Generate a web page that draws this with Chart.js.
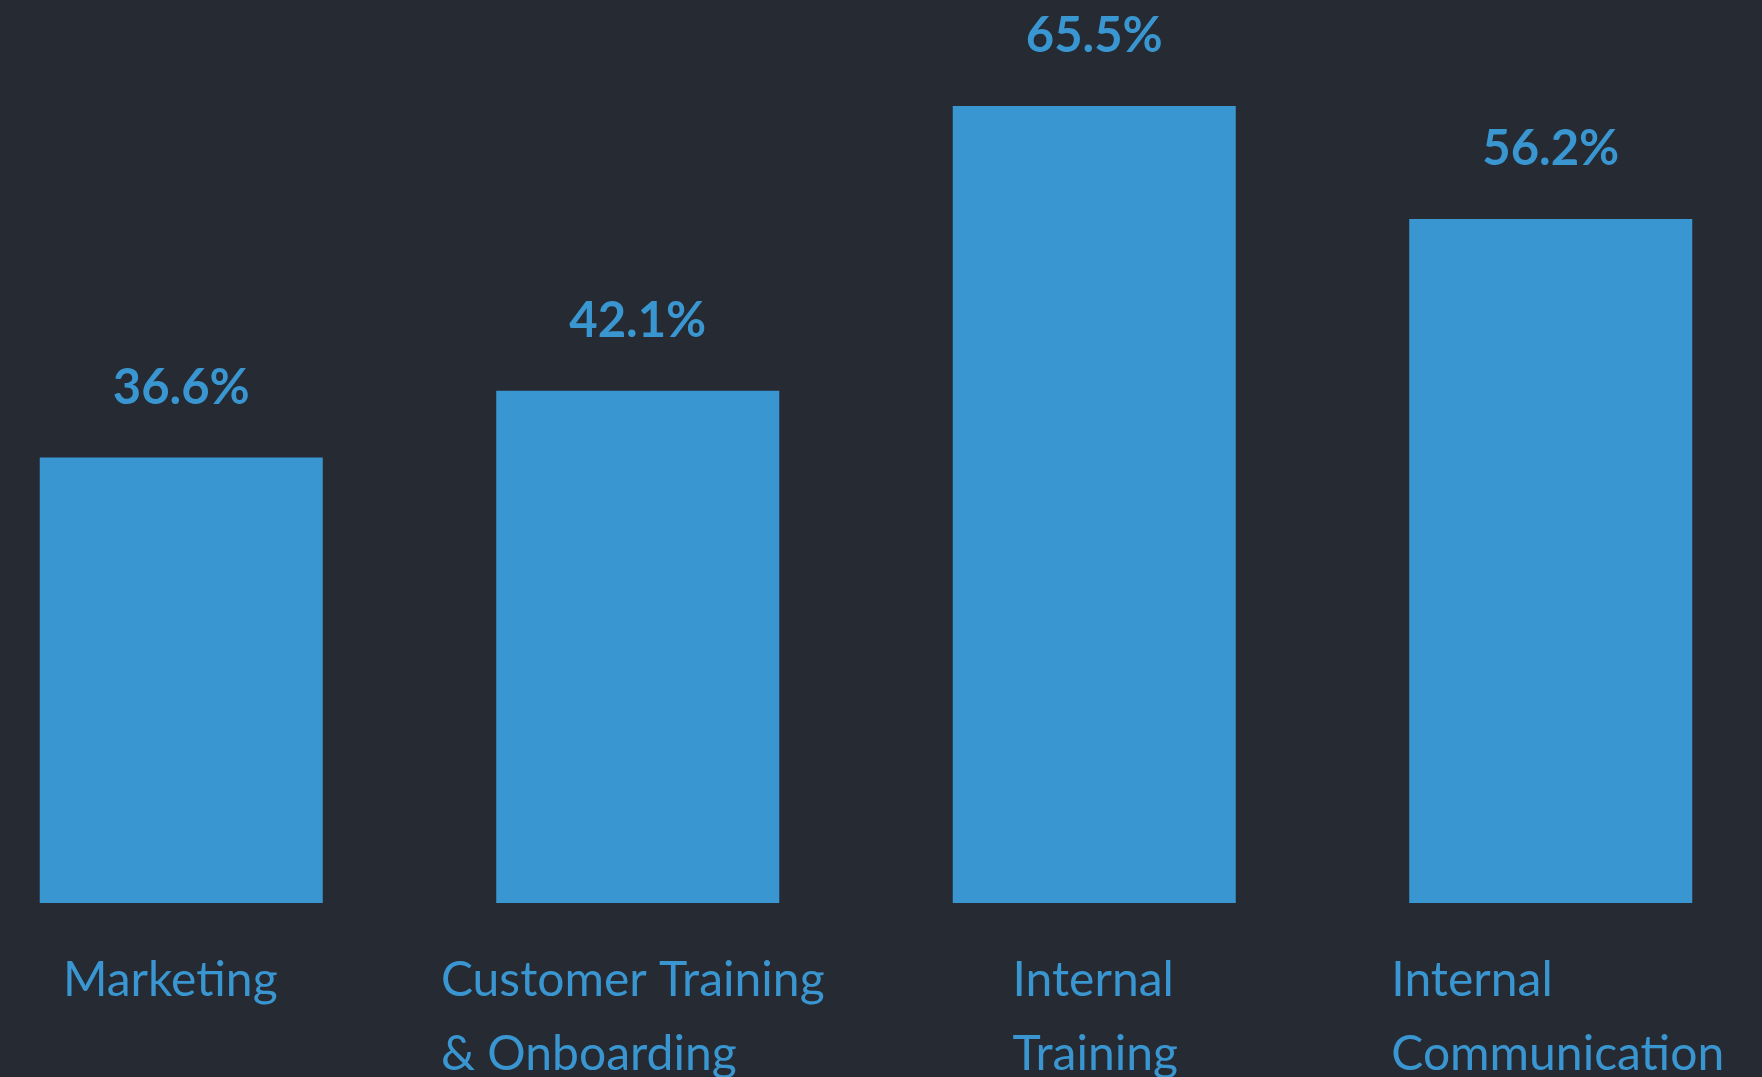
<!DOCTYPE html>
<html>
<head>
<meta charset="utf-8">
<script src="https://cdn.jsdelivr.net/npm/chart.js@4.4.1/dist/chart.umd.min.js"></script>
<style>
    html, body {
        margin: 0;
        padding: 0;
        width: 1762px;
        height: 1077px;
        overflow: hidden;
        background: #262a33;
    }
    #usageChart {
        position: absolute;
        left: -47px;
        top: 0;
    }
</style>
</head>
<body>
<canvas id="usageChart"></canvas>
<script>
const categories = [
    ['Marketing'],
    ['Customer Training', '& Onboarding'],
    ['Internal', 'Training'],
    ['Internal', 'Communication'],
];
const shares = [36.6, 42.1, 65.5, 56.2];
const valueLabels = ['36.6%', '42.1%', '65.5%', '56.2%'];

const BLUE = '#3996d0';

// percentages above each bar
const valueLabelPlugin = {
    id: 'valueLabels',
    afterDatasetsDraw(chart) {
        const ctx = chart.ctx;
        const bars = chart.getDatasetMeta(0).data;
        ctx.save();
        ctx.font = 'bold 49px Lato';
        ctx.fillStyle = BLUE;
        ctx.textAlign = 'center';
        ctx.textBaseline = 'alphabetic';
        bars.forEach((bar, i) => {
            ctx.fillText(valueLabels[i], bar.x, bar.y - 54);
        });
        ctx.restore();
    }
};

// category names: block roughly centred under the bar, lines left aligned
const categoryLabelPlugin = {
    id: 'categoryLabels',
    afterDraw(chart) {
        const ctx = chart.ctx;
        const xScale = chart.scales.x;
        const n = categories.length;
        ctx.save();
        ctx.font = '48px Lato';
        ctx.fillStyle = BLUE;
        ctx.textAlign = 'left';
        ctx.textBaseline = 'alphabetic';
        categories.forEach((lines, i) => {
            // labels sit on a slightly wider pitch than the bars
            const cx = xScale.getPixelForValue(i) + (i - (n - 1) / 2) * 6 - 2;
            const w = Math.max(...lines.map(l => ctx.measureText(l).width));
            lines.forEach((line, j) => {
                ctx.fillText(line, cx - w / 2, chart.chartArea.bottom + 93 + j * 74);
            });
        });
        ctx.restore();
    }
};

const canvas = document.getElementById('usageChart');
canvas.width = 1826;
canvas.height = 1077;

new Chart(canvas.getContext('2d'), {
    type: 'bar',
    data: {
        labels: categories,
        datasets: [{
            data: shares,
            backgroundColor: BLUE,
            borderWidth: 0,
            categoryPercentage: 1,
            barPercentage: 0.62,
        }],
    },
    options: {
        responsive: false,
        animation: false,
        layout: {
            padding: { top: 0, bottom: 174, left: 0, right: 0 },
        },
        plugins: {
            legend: { display: false },
            tooltip: { enabled: false },
        },
        scales: {
            x: {
                display: false,
                grid: { display: false },
            },
            y: {
                display: false,
                min: 0,
                max: 74.2,
                grid: { display: false },
            },
        },
    },
    plugins: [valueLabelPlugin, categoryLabelPlugin],
});
</script>
</body>
</html>
